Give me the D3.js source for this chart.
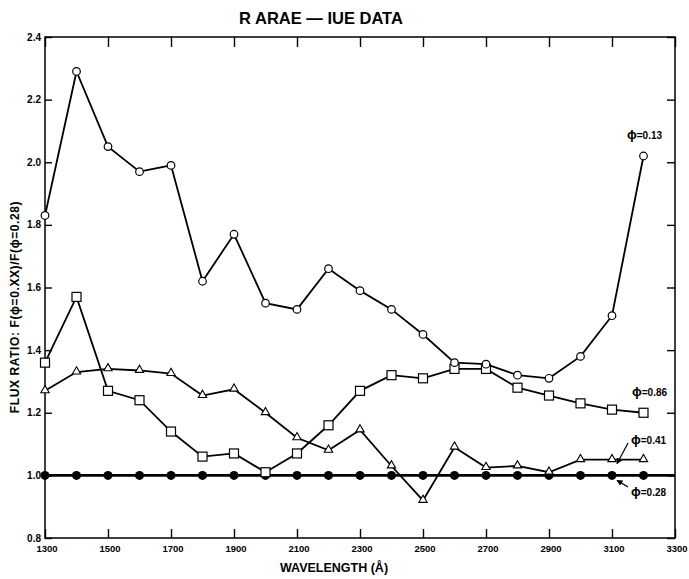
<!DOCTYPE html>
<html>
<head>
<meta charset="utf-8">
<script src="https://cdn.jsdelivr.net/npm/d3@7"></script>
<style>
    body { margin: 0; background: #fff; }
    svg { font-family: "Liberation Sans", Arial, sans-serif; font-weight: bold; }
</style>
</head>
<body>
<svg id="chart"></svg>
<script>
var wavelengths = [1300, 1400, 1500, 1600, 1700, 1800, 1900, 2000, 2100, 2200,
    2300, 2400, 2500, 2600, 2700, 2800, 2900, 3000, 3100, 3200];
var phi013 = [1.83, 2.29, 2.05, 1.97, 1.99, 1.62, 1.77, 1.55, 1.53, 1.66,
    1.59, 1.53, 1.45, 1.36, 1.355, 1.32, 1.31, 1.38, 1.51, 2.02];
var phi086 = [1.36, 1.57, 1.27, 1.24, 1.14, 1.06, 1.07, 1.01, 1.07, 1.16,
    1.27, 1.32, 1.31, 1.34, 1.34, 1.28, 1.255, 1.23, 1.21, 1.20];
var phi041 = [1.27, 1.33, 1.34, 1.335, 1.325, 1.255, 1.275, 1.20, 1.12, 1.08,
    1.145, 1.03, 0.92, 1.09, 1.025, 1.03, 1.01, 1.05, 1.05, 1.05];
var phi028 = [1.0, 1.0, 1.0, 1.0, 1.0, 1.0, 1.0, 1.0, 1.0, 1.0,
    1.0, 1.0, 1.0, 1.0, 1.0, 1.0, 1.0, 1.0, 1.0, 1.0];
var xTicks = [1300, 1500, 1700, 1900, 2100, 2300, 2500, 2700, 2900, 3100, 3300];
var yTicks = [0.8, 1.0, 1.2, 1.4, 1.6, 1.8, 2.0, 2.2, 2.4];
var seriesLabels = [
    { name: "0.13", at: 3200, value: 2.02 },
    { name: "0.86", at: 3200, value: 1.20 },
    { name: "0.41", at: 3100, value: 1.05 },
    { name: "0.28", at: 3100, value: 1.0 }
];

var totalWidth = 689, totalHeight = 579;
var plotLeft = 45, plotRight = 675, plotTop = 37, plotBottom = 538;

var svg = d3.select("#chart")
    .attr("width", totalWidth)
    .attr("height", totalHeight);

var x = d3.scaleLinear().domain([1300, 3300]).range([plotLeft, plotRight]);
var y = d3.scaleLinear().domain([0.8, 2.4]).range([plotBottom, plotTop]);

// frame
svg.append("rect")
    .attr("x", plotLeft).attr("y", plotTop)
    .attr("width", plotRight - plotLeft).attr("height", plotBottom - plotTop)
    .attr("fill", "none").attr("stroke", "#000").attr("stroke-width", 1.5);

// inward ticks on all four sides
var gx = svg.append("g")
    .attr("transform", "translate(0," + plotBottom + ")")
    .call(d3.axisTop(x).tickValues(xTicks).tickSize(9).tickFormat(""));
var gxt = svg.append("g")
    .attr("transform", "translate(0," + plotTop + ")")
    .call(d3.axisBottom(x).tickValues(xTicks).tickSize(10).tickFormat(""));
var gy = svg.append("g")
    .attr("transform", "translate(" + plotLeft + ",0)")
    .call(d3.axisRight(y).tickValues(yTicks).tickSize(7).tickFormat(""));
var gyr = svg.append("g")
    .attr("transform", "translate(" + plotRight + ",0)")
    .call(d3.axisLeft(y).tickValues(yTicks).tickSize(8).tickFormat(""));
[gx, gxt, gy, gyr].forEach(function (g) {
    g.select(".domain").remove();
    g.selectAll("line").attr("stroke", "#000").attr("stroke-width", 1.4);
});

// tick labels
svg.selectAll(".xlab")
    .data(xTicks)
    .enter()
    .append("text")
    .attr("class", "xlab")
    .attr("x", function (d) { return x(d) + 2; })
    .attr("y", plotBottom + 14)
    .attr("text-anchor", "middle")
    .attr("font-size", 9.5)
    .text(function (d) { return d; });

svg.selectAll(".ylab")
    .data(yTicks)
    .enter()
    .append("text")
    .attr("class", "ylab")
    .attr("x", plotLeft - 4)
    .attr("y", function (d) { return y(d) + 3.5; })
    .attr("text-anchor", "end")
    .attr("font-size", 10)
    .text(function (d) { return d.toFixed(1); });

// titles
svg.append("text")
    .attr("x", 321).attr("y", 24)
    .attr("text-anchor", "middle")
    .attr("font-size", 16.5)
    .text("R ARAE \u2014 IUE DATA");

svg.append("text")
    .attr("x", 334).attr("y", 572)
    .attr("text-anchor", "middle")
    .attr("font-size", 12.5)
    .text("WAVELENGTH (\u00C5)");

svg.append("text")
    .attr("transform", "translate(19,307) rotate(-90)")
    .attr("text-anchor", "middle")
    .attr("font-size", 12)
    .attr("letter-spacing", 0.6)
    .text("FLUX RATIO:  F(\u03D5=0.XX)/F(\u03D5=0.28)");

// lines
var line = d3.line()
    .x(function (d) { return x(d[0]); })
    .y(function (d) { return y(d[1]); });

function pairs(values) {
    return wavelengths.map(function (w, i) { return [w, values[i]]; });
}

// reference line at unity, across the whole plot
svg.append("line")
    .attr("x1", x(1300)).attr("x2", x(3300))
    .attr("y1", y(1.0)).attr("y2", y(1.0))
    .attr("stroke", "#000").attr("stroke-width", 2.6);

[phi041, phi086, phi013].forEach(function (s) {
    svg.append("path")
        .datum(pairs(s))
        .attr("d", line)
        .attr("fill", "none")
        .attr("stroke", "#000")
        .attr("stroke-width", 1.8);
});

// markers
svg.selectAll(".dot028")
    .data(pairs(phi028))
    .enter()
    .append("circle")
    .attr("cx", function (d) { return x(d[0]); })
    .attr("cy", function (d) { return y(d[1]); })
    .attr("r", 4.5)
    .attr("fill", "#000");

svg.selectAll(".tri")
    .data(pairs(phi041))
    .enter()
    .append("path")
    .attr("d", d3.symbol().type(d3.symbolTriangle).size(30))
    .attr("transform", function (d) { return "translate(" + x(d[0]) + "," + (y(d[1]) - 0.5) + ")"; })
    .attr("fill", "#fff")
    .attr("stroke", "#000")
    .attr("stroke-width", 1.1);

svg.selectAll(".sq")
    .data(pairs(phi086))
    .enter()
    .append("rect")
    .attr("x", function (d) { return x(d[0]) - 4.5; })
    .attr("y", function (d) { return y(d[1]) - 4.5; })
    .attr("width", 9).attr("height", 9)
    .attr("fill", "#fff")
    .attr("stroke", "#000")
    .attr("stroke-width", 1.2);

svg.selectAll(".circ")
    .data(pairs(phi013))
    .enter()
    .append("circle")
    .attr("cx", function (d) { return x(d[0]); })
    .attr("cy", function (d) { return y(d[1]); })
    .attr("r", 3.8)
    .attr("fill", "#fff")
    .attr("stroke", "#000")
    .attr("stroke-width", 1.2);

// phase labels
var labelPos = {
    "0.13": [627, 139],
    "0.86": [632, 396],
    "0.41": [631, 444],
    "0.28": [631, 496]
};
seriesLabels.forEach(function (s) {
    var p = labelPos[s.name];
    var t = svg.append("text").attr("x", p[0]).attr("y", p[1]);
    t.append("tspan").attr("font-size", 13).text("\u03D5");
    t.append("tspan").attr("font-size", 10).text("=" + s.name);
});

// leaders for the two lower labels
svg.append("defs").append("marker")
    .attr("id", "arr")
    .attr("viewBox", "0 0 10 10")
    .attr("refX", 9).attr("refY", 5)
    .attr("markerWidth", 5).attr("markerHeight", 5)
    .attr("orient", "auto")
    .append("path").attr("d", "M0,0L10,5L0,10z").attr("fill", "#000");

[["0.41", -1], ["0.28", 1]].forEach(function (a) {
    var s = seriesLabels.filter(function (d) { return d.name == a[0]; })[0];
    var p = labelPos[a[0]];
    svg.append("line")
        .attr("x1", p[0] - 3).attr("y1", p[1] + (a[1] < 0 ? -1 : -9))
        .attr("x2", x(s.at) + 5).attr("y2", y(s.value) + (a[1] < 0 ? 4 : 5))
        .attr("stroke", "#000").attr("stroke-width", 1.2)
        .attr("marker-end", "url(#arr)");
});
</script>
</body>
</html>
